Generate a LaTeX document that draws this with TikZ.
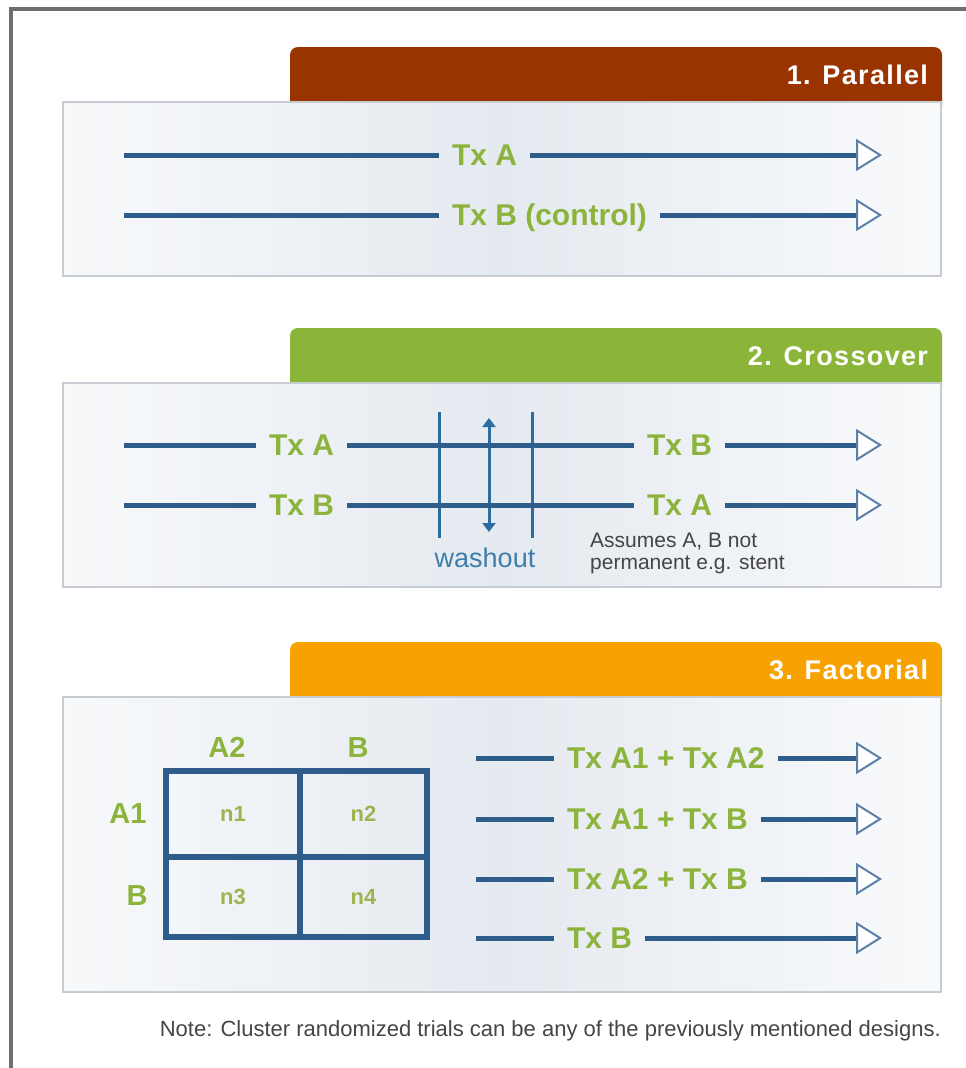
\documentclass[tikz,border=0pt]{standalone}
\usepackage{fontspec}
\setmainfont{Liberation Sans}
\newfontfamily\tabfont{Liberation Sans}[LetterSpace=5]
\usetikzlibrary{arrows.meta}

\definecolor{framegray}{HTML}{6E6E6E}
\definecolor{tabred}{HTML}{993300}
\definecolor{tabgreen}{HTML}{8BB538}
\definecolor{taborange}{HTML}{F7A200}
\definecolor{lblgreen}{HTML}{8CB43C}
\definecolor{cellgreen}{HTML}{9DB450}
\definecolor{flow}{HTML}{2F5D8B}
\definecolor{wash}{HTML}{2C6C9E}
\definecolor{washtext}{HTML}{3E7EAA}
\definecolor{tipblue}{HTML}{5C80A8}
\definecolor{boxedge}{HTML}{C6CCD2}
\definecolor{boxmid}{HTML}{E5EAF0}
\definecolor{notegray}{HTML}{454545}

\tikzset{
  panel/.style={draw=boxedge, line width=1.5pt,
    left color=white!70!boxmid, right color=white!75!boxmid, middle color=boxmid},
  tabshape/.style={rounded corners=8pt},
  tabtitle/.style={font=\tabfont\bfseries\fontsize{27}{32}\selectfont, text=white,
    anchor=east, inner sep=0pt, outer sep=0pt, text height=19.3pt, text depth=0pt},
  lbl/.style={font=\bfseries\fontsize{30}{36}\selectfont, text=lblgreen,
    inner xsep=13pt, inner ysep=0pt, outer sep=0pt, anchor=west,
    text height=21.5pt, text depth=0pt},
  gridlbl/.style={font=\bfseries\fontsize{29}{34}\selectfont, text=lblgreen,
    inner sep=0pt, text height=20.8pt, text depth=0pt},
  cell/.style={draw=flow, line width=6pt, font=\bfseries\fontsize{22}{26}\selectfont,
    text=cellgreen, inner sep=0pt},
  flowline/.style={draw=flow, line width=5pt},
  flowarrow/.style={flowline,
    -{Triangle[length=26pt,width=32pt,line width=2pt,color=tipblue,fill=white]}},
  washbar/.style={draw=wash, line width=3pt},
  washarrow/.style={draw=wash, line width=3pt,
    {Triangle[length=9pt,width=13pt]}-{Triangle[length=9pt,width=13pt]}},
}

\begin{document}
\begin{tikzpicture}[x=1pt, y=-1pt]
  \useasboundingbox (0,0) rectangle (966,1068);
  \fill[white] (0,0) rectangle (966,1068);

  % outer frame: top and left edges only
  \draw[framegray, line width=4pt] (11,1070) -- (11,8.5) -- (968,8.5);

  % ---------- 1. Parallel ----------
  \fill[tabred, tabshape] (290,47) rectangle (942,115);
  \node[tabtitle] (t1) at (928,74.5) {1. Parallel};
  \path[panel] (63,102) rectangle (941,276);

  \coordinate (p1a-s) at (124,155);
  \node[lbl] (p1a-t) at (439,155) {Tx A};
  \coordinate (p1a-e) at (882,155);
  \draw[flowline] (p1a-s) -- (p1a-t.west);
  \draw[flowarrow] (p1a-t.east) -- (p1a-e);

  \coordinate (p1b-s) at (124,215);
  \node[lbl] (p1b-t) at (439,215) {Tx B (control)};
  \coordinate (p1b-e) at (882,215);
  \draw[flowline] (p1b-s) -- (p1b-t.west);
  \draw[flowarrow] (p1b-t.east) -- (p1b-e);

  % ---------- 2. Crossover ----------
  \fill[tabgreen, tabshape] (290,328) rectangle (942,396);
  \node[tabtitle] (t2) at (928,355.5) {2. Crossover};
  \path[panel] (63,383) rectangle (941,587);

  % washout period
  \coordinate (w1t) at (439,412); \coordinate (w1b) at (439,538);
  \coordinate (w2t) at (532,412); \coordinate (w2b) at (532,538);
  \coordinate (wat) at (489,418); \coordinate (wab) at (489,532);
  \draw[washbar] (w1t) -- (w1b);
  \draw[washbar] (w2t) -- (w2b);
  \draw[washarrow] (wat) -- (wab);
  \node[font=\fontsize{27}{32}\selectfont, text=washtext, anchor=base, inner sep=0pt]
    (wash) at (485,567) {washout};

  \coordinate (p2a-s) at (124,445);
  \node[lbl] (p2a-t1) at (256,445) {Tx A};
  \node[lbl] (p2a-t2) at (634,445) {Tx B};
  \coordinate (p2a-e) at (882,445);
  \draw[flowline] (p2a-s) -- (p2a-t1.west);
  \draw[flowline] (p2a-t1.east) -- (p2a-t2.west);
  \draw[flowarrow] (p2a-t2.east) -- (p2a-e);

  \coordinate (p2b-s) at (124,505);
  \node[lbl] (p2b-t1) at (256,505) {Tx B};
  \node[lbl] (p2b-t2) at (634,505) {Tx A};
  \coordinate (p2b-e) at (882,505);
  \draw[flowline] (p2b-s) -- (p2b-t1.west);
  \draw[flowline] (p2b-t1.east) -- (p2b-t2.west);
  \draw[flowarrow] (p2b-t2.east) -- (p2b-e);

  % two-line remark; the base anchor sits on the last line
  \node[font=\fontsize{21}{22}\selectfont, text=notegray, anchor=base west,
    align=left, inner sep=0pt] (assume) at (590,569.5)
    {Assumes A, B not\\permanent e.g. stent};

  % ---------- 3. Factorial ----------
  \fill[taborange, tabshape] (290,642) rectangle (942,710);
  \node[tabtitle] (t3) at (928,669.5) {3. Factorial};
  \path[panel] (63,697) rectangle (941,992);

  % 2x2 allocation table
  \node[cell, minimum width=134pt, minimum height=86pt] (n1) at (233,814) {n1};
  \node[cell, minimum width=127pt, minimum height=86pt] (n2) at (363.5,814) {n2};
  \node[cell, minimum width=134pt, minimum height=80pt] (n3) at (233,897) {n3};
  \node[cell, minimum width=127pt, minimum height=80pt] (n4) at (363.5,897) {n4};
  \node[gridlbl] (c1) at (227,747) {A2};
  \node[gridlbl] (c2) at (358,747) {B};
  \node[gridlbl] (r1) at (128,813) {A1};
  \node[gridlbl] (r2) at (137,895) {B};

  \coordinate (f1-s) at (476,758);
  \node[lbl] (f1-t) at (554,758) {Tx A1 + Tx A2};
  \coordinate (f1-e) at (882,758);
  \draw[flowline] (f1-s) -- (f1-t.west);
  \draw[flowarrow] (f1-t.east) -- (f1-e);

  \coordinate (f2-s) at (476,819);
  \node[lbl] (f2-t) at (554,819) {Tx A1 + Tx B};
  \coordinate (f2-e) at (882,819);
  \draw[flowline] (f2-s) -- (f2-t.west);
  \draw[flowarrow] (f2-t.east) -- (f2-e);

  \coordinate (f3-s) at (476,879);
  \node[lbl] (f3-t) at (554,879) {Tx A2 + Tx B};
  \coordinate (f3-e) at (882,879);
  \draw[flowline] (f3-s) -- (f3-t.west);
  \draw[flowarrow] (f3-t.east) -- (f3-e);

  \coordinate (f4-s) at (476,938);
  \node[lbl] (f4-t) at (554,938) {Tx B};
  \coordinate (f4-e) at (882,938);
  \draw[flowline] (f4-s) -- (f4-t.west);
  \draw[flowarrow] (f4-t.east) -- (f4-e);

  % footnote
  \node[font=\fontsize{22}{26}\selectfont, text=notegray, anchor=base east, inner sep=0pt]
    (note) at (941,1036)
    {Note: Cluster randomized trials can be any of the previously mentioned designs.};
\end{tikzpicture}
\end{document}
